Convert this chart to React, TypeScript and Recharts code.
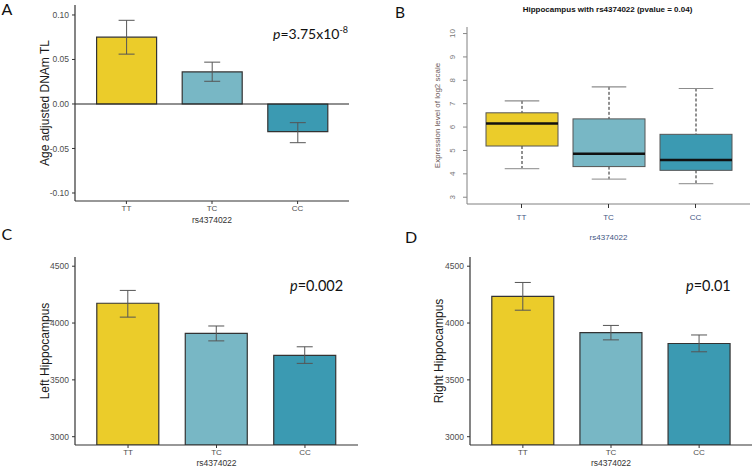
import React from "react";
import { BarChart, ComposedChart, Bar, XAxis, YAxis, Cell, ErrorBar, ReferenceLine, Label } from "recharts";

const genotypes = ["TT", "TC", "CC"];
const genotypeColors = ["#EBCC2A", "#78B7C5", "#3B9AB2"];

// A: age adjusted DNAm TL (mean and error bar ends)
const telomereMean = [0.075, 0.036, -0.031];
const telomereLow = [0.056, 0.0255, -0.0435];
const telomereHigh = [0.094, 0.047, -0.021];
const telomereTicks = [-0.1, -0.05, 0, 0.05, 0.1];

// B: expression boxplot
const exprWhiskerLow = [4.22, 3.77, 3.58];
const exprQ1 = [5.19, 4.31, 4.15];
const exprMedian = [6.15, 4.86, 4.59];
const exprQ3 = [6.61, 6.35, 5.69];
const exprWhiskerHigh = [7.12, 7.72, 7.65];
const exprTicks = [3, 4, 5, 6, 7, 8, 9, 10];

// C / D: hippocampal volumes
const leftHippoMean = [4174, 3909, 3715];
const leftHippoLow = [4052, 3843, 3645];
const leftHippoHigh = [4287, 3974, 3791];
const rightHippoMean = [4235, 3915, 3820];
const rightHippoLow = [4113, 3852, 3747];
const rightHippoHigh = [4357, 3979, 3895];
const volumeTicks = [3000, 3500, 4000, 4500];

const sans = "'Liberation Sans', Arial, sans-serif";
const calibriLike = "Lato, 'Open Sans', sans-serif";

function makeBarData(mean: number[], low: number[], high: number[]) {
  return genotypes.map((g, i) => ({
    genotype: g,
    mean: mean[i],
    err: [mean[i] - low[i], high[i] - mean[i]],
  }));
}

function BarPanel(props: any) {
  const { data, left, top, width, height, margin, yWidth, domain, ticks, format, yLabel, yLabelOffset, xPad, barSize, zeroLine, xLabelOffset } = props;
  return (
    <div style={{ position: "absolute", left, top }}>
      <BarChart width={width} height={height} data={data} margin={margin}>
        <XAxis
          dataKey="genotype"
          height={22}
          padding={{ left: xPad, right: xPad }}
          tickSize={3}
          tickMargin={1}
          axisLine={{ stroke: "#333", strokeWidth: 1.2 }}
          tickLine={{ stroke: "#333" }}
          tick={{ fill: "#4d4d4d", fontSize: 8, fontFamily: sans }}
        >
          <Label value="rs4374022" position="insideBottom" offset={xLabelOffset} fill="#333" fontSize={8.5} fontFamily={sans} />
        </XAxis>
        <YAxis
          type="number"
          domain={domain}
          ticks={ticks}
          interval={0}
          allowDataOverflow
          width={yWidth}
          tickFormatter={format}
          tickSize={3}
          tickMargin={3}
          axisLine={{ stroke: "#333", strokeWidth: 1.2 }}
          tickLine={{ stroke: "#333" }}
          tick={{ fill: "#4d4d4d", fontSize: 8.5, fontFamily: sans }}
        >
          <Label value={yLabel} angle={-90} position="insideLeft" offset={yLabelOffset} fill="#1a1a1a" fontSize={12} fontFamily={sans} style={{ textAnchor: "middle" }} />
        </YAxis>
        {zeroLine && <ReferenceLine y={0} stroke="#222" strokeWidth={1.2} />}
        <Bar dataKey="mean" barSize={barSize} stroke="#333" strokeWidth={1.2} isAnimationActive={false}>
          {data.map((d: any, i: number) => (
            <Cell key={d.genotype} fill={genotypeColors[i]} />
          ))}
          <ErrorBar dataKey="err" width={8} stroke="#555" strokeWidth={1} direction="y" isAnimationActive={false} />
        </Bar>
      </BarChart>
    </div>
  );
}

function BoxShape(props: any) {
  const { x, y, width, height, payload, index } = props;
  const { lo, q1, med, q3, hi } = payload;
  const k = Math.abs(height) / (hi - lo);
  const top = Math.min(y, y + height);
  const py = (v: number) => top + (hi - v) * k;
  const cx = x + width / 2;
  const cap = width * 0.24;
  return (
    <g>
      <line x1={cx} x2={cx} y1={py(hi)} y2={py(q3)} stroke="#222" strokeDasharray="3 2" />
      <line x1={cx} x2={cx} y1={py(q1)} y2={py(lo)} stroke="#222" strokeDasharray="3 2" />
      <line x1={cx - cap} x2={cx + cap} y1={py(hi)} y2={py(hi)} stroke="#8c8c8c" strokeWidth={1.2} />
      <line x1={cx - cap} x2={cx + cap} y1={py(lo)} y2={py(lo)} stroke="#a0a0a0" strokeWidth={1.2} />
      <rect x={x} y={py(q3)} width={width} height={py(q1) - py(q3)} fill={genotypeColors[index]} stroke="#555" strokeWidth={1} />
      <line x1={x} x2={x + width} y1={py(med)} y2={py(med)} stroke="#111" strokeWidth={2.5} />
    </g>
  );
}

function RotatedTick(props: any) {
  const { x, y, payload } = props;
  const tx = x - 8;
  return (
    <text x={tx} y={y} transform={`rotate(-90, ${tx}, ${y})`} textAnchor="middle" dominantBaseline="central" fill="#777" fontSize={8} fontFamily={sans}>
      {payload.value}
    </text>
  );
}

function BoxPanel() {
  const data = genotypes.map((g, i) => ({
    genotype: g,
    lo: exprWhiskerLow[i],
    q1: exprQ1[i],
    med: exprMedian[i],
    q3: exprQ3[i],
    hi: exprWhiskerHigh[i],
  }));
  const domain = [2.71, 10.28];
  return (
    <div style={{ position: "absolute", left: 370, top: 0 }}>
      <ComposedChart width={383} height={245} data={data} margin={{ top: 27, right: 3, bottom: 5, left: 57 }}>
        <XAxis
          dataKey="genotype"
          height={36}
          padding={{ left: 11, right: 11 }}
          tickSize={4}
          tickMargin={6}
          axisLine={{ stroke: "#808080" }}
          tickLine={{ stroke: "#333" }}
          tick={{ fill: "#3f5683", fontSize: 8, fontFamily: sans }}
        >
          <Label value="rs4374022" position="insideBottom" offset={0} fill="#3f5683" fontSize={8} fontFamily={sans} />
        </XAxis>
        <XAxis xAxisId="top" orientation="top" dataKey="genotype" height={0} tick={false} tickLine={false} axisLine={{ stroke: "#808080" }} />
        <YAxis
          type="number"
          domain={domain}
          ticks={exprTicks}
          interval={0}
          allowDataOverflow
          width={40}
          tickSize={4}
          axisLine={{ stroke: "#808080" }}
          tickLine={{ stroke: "#888" }}
          tick={RotatedTick}
        >
          <Label value="Expression level of log2 scale" angle={-90} position="insideLeft" offset={10} fill="#6b5858" fontSize={8} fontFamily={sans} style={{ textAnchor: "middle" }} />
        </YAxis>
        <YAxis yAxisId="right" orientation="right" type="number" domain={domain} width={0} tick={false} tickLine={false} axisLine={{ stroke: "#808080" }} />
        <Bar dataKey={(d: any) => [d.lo, d.hi]} barSize={72} shape={BoxShape} isAnimationActive={false} />
      </ComposedChart>
    </div>
  );
}

export default function App() {
  const fmt2 = (v: number) => v.toFixed(2);
  return (
    <div style={{ position: "absolute", left: 0, top: 0, width: 753, height: 467, background: "#fff", overflow: "hidden" }}>
      <BarPanel
        data={makeBarData(telomereMean, telomereLow, telomereHigh)}
        left={0}
        top={0}
        width={370}
        height={230}
        margin={{ top: 5, right: 21, bottom: 7, left: 20 }}
        yWidth={55}
        domain={[-0.109, 0.1112]}
        ticks={telomereTicks}
        format={fmt2}
        yLabel="Age adjusted DNAm TL"
        yLabelOffset={25}
        xPad={8.6}
        barSize={60}
        zeroLine
        xLabelOffset={0}
      />
      <BoxPanel />
      <BarPanel
        data={makeBarData(leftHippoMean, leftHippoLow, leftHippoHigh)}
        left={0}
        top={230}
        width={370}
        height={237}
        margin={{ top: 27, right: 12, bottom: 0, left: 20 }}
        yWidth={55}
        domain={[2927, 4581]}
        ticks={volumeTicks}
        yLabel="Left Hippocampus"
        yLabelOffset={25}
        xPad={8.8}
        barSize={62}
        xLabelOffset={1}
      />
      <BarPanel
        data={makeBarData(rightHippoMean, rightHippoLow, rightHippoHigh)}
        left={370}
        top={230}
        width={383}
        height={237}
        margin={{ top: 27, right: 1, bottom: 0, left: 45 }}
        yWidth={55}
        domain={[2927, 4581]}
        ticks={volumeTicks}
        yLabel="Right Hippocampus"
        yLabelOffset={24}
        xPad={8.8}
        barSize={62}
        xLabelOffset={1}
      />
      <svg width={753} height={467} style={{ position: "absolute", left: 0, top: 0, pointerEvents: "none" }}>
        <g fontFamily={calibriLike} fill="#111">
          <text x={1.5} y={14.5} fontSize={16}>A</text>
          <text x={395} y={17.5} fontSize={15.5}>B</text>
          <text x={1.5} y={240} fontSize={16}>C</text>
          <text x={405} y={243.3} fontSize={16}>D</text>
          <text x={273} y={39} fontSize={14}>
            <tspan fontStyle="italic">p</tspan>=3.75x10<tspan dy={-6} fontSize={9}>-8</tspan>
          </text>
          <text x={290} y={291} fontSize={14.5}>
            <tspan fontStyle="italic">p</tspan>=0.002
          </text>
          <text x={686} y={291} fontSize={14.5}>
            <tspan fontStyle="italic">p</tspan>=0.01
          </text>
        </g>
        <text x={607.5} y={11.5} textAnchor="middle" fontWeight="bold" fontSize={8} fontFamily={sans} fill="#111">
          Hippocampus with rs4374022 (pvalue = 0.04)
        </text>
      </svg>
    </div>
  );
}
